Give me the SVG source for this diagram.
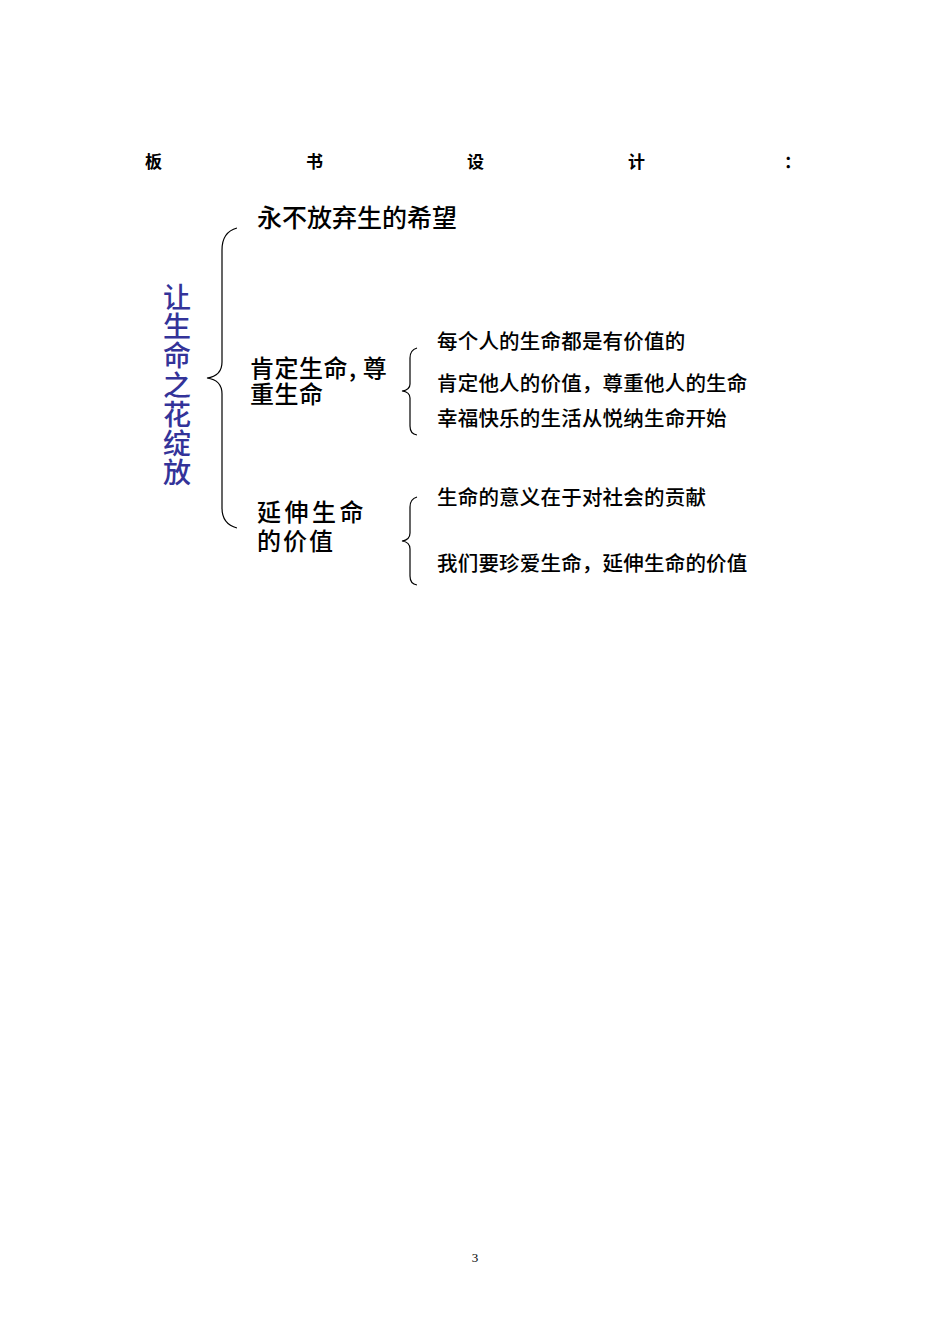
<svg xmlns="http://www.w3.org/2000/svg" width="950" height="1344" viewBox="0 0 950 1344">
<style>
.t{font-family:"Noto Sans CJK SC","Noto Sans CJK TC",sans-serif;fill:#000}
.title{font-size:17px;font-weight:bold}
.main{font-size:25px;font-weight:500}
.sub{font-size:20.5px;font-weight:500;letter-spacing:0.2px}
.br{fill:none;stroke:#000;stroke-width:1.2}
</style>
<rect width="950" height="1344" fill="#fff"/>
<g id="title">
<text class="t title" x="145" y="168">板</text>
<text class="t title" x="306" y="168">书</text>
<text class="t title" x="467" y="168">设</text>
<text class="t title" x="628" y="168">计</text>
<text class="t title" x="784" y="168">：</text>
</g>
<g id="root">
<text class="t" x="177" y="283" style="font-size:28px;font-weight:500;fill:#333399;writing-mode:vertical-rl;letter-spacing:1.3px">让生命之花绽放</text>
</g>
<g id="connectors">
<path class="br" d="M237,228 Q222,232 222,250 L222,362 Q222,376 207,378 Q222,380 222,394 L222,508 Q222,524 237,528"/>
<path class="br" d="M417,348 Q410,350 410,358 L410,384 Q410,390 402,391 Q410,392 410,398 L410,426 Q410,434 417,435"/>
<path class="br" d="M417,497 Q410,499 410,507 L410,533 Q410,540 402,541 Q410,542 410,549 L410,576 Q410,584 417,585"/>
</g>
<g id="n1">
<text class="t main" x="257" y="227">永不放弃生的希望</text>
</g>
<g id="n2">
<text class="t main" style="font-size:24px;letter-spacing:0.5px"><tspan x="250" y="377">肯定生命</tspan><tspan dx="1">,</tspan><tspan dx="6">尊</tspan><tspan x="250" y="403">重生命</tspan></text>
</g>
<g id="n3">
<text class="t main" style="font-size:24px;letter-spacing:3.5px"><tspan x="257" y="521">延伸生命</tspan><tspan x="257" y="550" style="letter-spacing:2px">的价值</tspan></text>
</g>
<g id="n2a"><text class="t sub" x="437" y="349">每个人的生命都是有价值的</text></g>
<g id="n2b"><text class="t sub" x="437" y="391">肯定他人的价值，尊重他人的生命</text></g>
<g id="n2c"><text class="t sub" x="437" y="426">幸福快乐的生活从悦纳生命开始</text></g>
<g id="n3a"><text class="t sub" x="437" y="505">生命的意义在于对社会的贡献</text></g>
<g id="n3b"><text class="t sub" x="437" y="571">我们要珍爱生命，延伸生命的价值</text></g>
<g id="page"><text x="475" y="1262" text-anchor="middle" style="font-family:'Liberation Serif',serif;font-size:13px">3</text></g>
</svg>
